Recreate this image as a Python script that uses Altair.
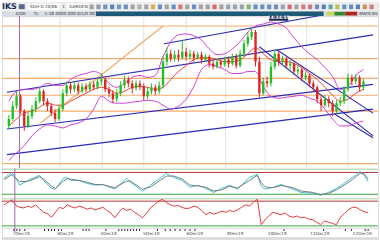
import altair as alt
import numpy as np
import pandas as pd

# ---------------- price candles (bar 0..92) ----------------
opens = [43,50,63,73,58,43,53,60,68,78, 68,63,56,50,60,76,84,80,84,78,
         83,80,85,82,88,90,80,76,70,76, 84,90,86,81,86,83,73,78,82,78,
         84,108,116,111,115,112,118,113,116,112, 115,110,113,106,103,108,105,110,106,113,
         104,116,126,133,138,108,76,88,86,103, 116,108,111,104,106,98,100,92,94,86,
         82,70,64,70,66,58,66,68,80,92, 88,92,82]
closes = [50,63,73,58,43,53,60,68,78,68, 63,56,50,60,76,84,80,84,78,83,
          80,85,82,88,90,80,76,70,76,84, 90,86,81,86,83,73,78,82,78,84,
          108,116,111,115,112,118,113,116,112,115, 110,113,106,103,108,105,110,106,113,104,
          116,126,133,138,108,76,88,86,103,116, 108,111,104,106,98,100,92,94,86,82,
          70,64,70,66,58,66,68,80,92,88, 92,82,88]
highs = [54,68,78,75,60,56,64,72,82,80, 71,66,60,64,80,88,87,88,87,86,
         86,88,88,91,96,92,83,79,80,88, 94,93,89,89,89,86,82,86,85,88,
         113,122,120,119,120,130,122,120,119,118, 118,116,115,109,111,110,113,113,116,116,
         120,130,138,143,140,113,92,93,108,120, 118,114,113,110,108,104,102,98,96,89,
         84,73,74,73,69,69,72,83,96,95, 95,94,91]
lows = [40,48,60,55,38,41,50,57,66,64, 58,53,47,48,58,73,76,77,75,76,
        77,78,79,80,84,77,72,66,67,73, 81,82,76,79,79,69,70,75,74,75,
        81,104,108,108,108,110,109,110,108,110, 106,108,102,100,101,102,103,102,104,101,
        102,113,123,130,103,72,74,82,83,100, 104,105,101,100,95,94,88,89,82,78,
        66,58,62,62,53,55,63,65,78,84, 85,78,79]

# ---------------- Bollinger bands (every second bar) ----------------
band_bars = list(range(0, 93, 2))
bb_upper = [68,78,80,80,82,86,84,84,90,94, 96,98,95,86,82,86,92,94,92,94,
            113,128,135,136,134,130,121,115,116,121, 128,138,144,146,148,146,142,132,123,116,
            110,102,93,80,83,94,100]
bb_mid = [43,50,56,58,62,66,64,64,68,72, 76,80,82,80,76,78,82,83,82,80,
          82,90,98,104,110,112,112,110,108,108, 110,116,122,116,110,108,108,106,102,96,
          90,82,74,68,70,76,80]
bb_lower = [8,16,23,33,40,44,43,41,44,46, 50,60,73,68,66,66,67,68,69,68,
            64,60,63,70,83,100,105,103,100,96, 96,98,98,83,73,71,72,73,74,71,
            68,60,50,43,43,46,48]

# ---------------- drawn levels and trend lines ----------------
levels = [144, 111, 91, 74, 58, 5]
trend_b0 = [40.25, -0.5, -0.5, -0.5, 65, 69.5, 84.5, 8.25]
trend_p0 = [126, 77, 40, 14, 123, 120, 55, 46]
trend_b1 = [81.25, 94.5, 94.5, 94.5, 94.5, 94.5, 94.5, 40]
trend_p1 = [155, 135, 85, 60, 33, 56, 31, 144]
trend_kind = ["blue", "blue", "blue", "blue", "blue", "blue", "blue", "orange"]

grid_bars = [13.25, 24.25, 35, 46, 56.25, 66.5, 77.25, 88]
cursor_bar = [2.75]
time_label = ["14:34:55"]
time_bar = [70]

# ---------------- oscillators ----------------
stoch_bars = [0,2,4,6,9,10,12,13,15,16, 17,19,21,23,25,28,31,32,35,37,
              41,43,45,47,49,51,53,55,57,59, 62,64,65,66,68,70,73,75,78,80,
              82,84,86,88,90,91,92]
stoch_k = [64,80,45,58,72,58,36,34,64,66, 58,58,50,45,47,34,64,53,28,45,
           77,66,58,39,45,36,25,36,45,34, 66,75,42,34,39,47,34,25,23,17,
           25,36,50,66,83,72,55]
stoch_d = [60,74,55,55,68,62,42,36,56,63, 61,58,53,47,46,38,56,56,34,40,
           70,70,62,45,43,39,29,32,42,37, 58,72,52,40,38,44,38,29,25,19,
           22,32,45,60,78,76,62]
rsi = [64,68,72,63,60,59,62,60,64,58, 52,50,44,52,60,58,64,61,59,62,
       60,57,59,56,58,60,55,51,43,52, 59,55,57,52,48,43,50,59,64,70,
       73,68,64,62,63,60,58,59,62,60, 55,48,52,49,51,54,52,55,53,56,
       60,64,62,68,73,32,40,47,52,50, 48,51,46,44,46,43,44,41,40,36,
       32,38,36,34,32,44,50,56,60,60, 56,53,51]

# ---------------- time axis ----------------
date_labels = ["2Dec19", "3Dec19", "4Dec19", "5Dec19", "6Dec19",
               "9Dec19", "10Dec19", "11Dec19", "12Dec19"]
label_bars = [2.25, 13.25, 24.25, 35, 46, 56.25, 66.5, 77.25, 88]
event_bars = [2.5, 3.25, 4, 5.25, 10.25, 11.25, 12, 12.75, 13.75, 14.5, 20, 20.75, 21.5,
              25.75, 29, 29.75, 30.5, 31.25, 32, 32.75, 33.5, 34.25, 38.75, 40.75, 42,
              43.25, 44.5, 45.75, 47, 48.25, 70.75, 80.75, 86.25, 87.75, 91.25, 92]

# ---------------- toolbar ----------------
tb_names = ["row1", "row2", "box1", "box2", "feed", "st1", "st2", "st3", "gridicon"]
tb_x0 = [0, 0, 26, 66, 95, 328, 336, 347, 17]
tb_x1 = [380, 380, 58, 86, 325, 336, 347, 359, 23]
tb_y0 = [0, 9, 1.5, 1.5, 9.4, 9.6, 9.6, 9.6, 2]
tb_y1 = [9, 14, 7.5, 7.5, 13.8, 13.4, 13.4, 13.4, 7]
tb_colors = ["#eeeeee", "#d8dde3", "#ffffff", "#ffffff", "#1d5a78", "#cbd65c", "#2f8c2f", "#b3261e", "#55698f"]
icon_colors = ["#8a8a8a","#7a7a9a","#3a7ab0","#2a5ea8","#4a7ac0","#3b6fb6","#8a8a8a","#9a9a9a","#8a8a8a","#c8a020",
               "#3b6fb6","#8a8a8a","#3b6fb6","#d05050","#8a8a8a","#3b6fb6","#8a8a8a","#8a8a8a","#d04040","#8a8a8a",
               "#7a8a9a","#7a8a9a","#7a8a9a","#5aa050","#3b6fb6","#3b6fb6","#3b6fb6","#3b6fb6","#7a8aaa","#d04040",
               "#8a8a8a","#d05050","#c05060","#3b6fb6","#2a5ea8","#3a8aa0","#b0b020","#3b6fb6","#3b6fb6","#2a5ea8",
               "#c07020","#d05060"]
tb_text = ["SGH-D 20/06", "1", "GARDEN", "GOD", "TL", "1:18  0000 000 0/1/0 007", "MAT0:65"]
tb_tx = [28, 61, 68, 14, 32, 43, 361]
tb_ty = [4.6, 4.6, 4.6, 11.7, 11.7, 11.7, 11.7]

W = 380
FONT = "DejaVu Sans"
XS = alt.Scale(domain=[-0.5, 94.5], nice=False, zero=False)
PS = alt.Scale(domain=[0, 154], nice=False, zero=False)
S1 = alt.Scale(domain=[9.1, 90.9], nice=False, zero=False)
S2 = alt.Scale(domain=[26.8, 74.8], nice=False, zero=False)


def bx(field="bar"):
    return alt.X(f"{field}:Q", scale=XS, axis=None)


# ======== toolbar ========
TBX = alt.Scale(domain=[0, 380], nice=False, zero=False)
TBY = alt.Scale(domain=[14, 0], nice=False, zero=False)
tb_df = pd.DataFrame({"name": tb_names, "x0": tb_x0, "x1": tb_x1, "y0": tb_y0, "y1": tb_y1})
tb_rects = alt.Chart(tb_df).mark_rect().encode(
    x=alt.X("x0:Q", scale=TBX, axis=None), x2="x1:Q",
    y=alt.Y("y0:Q", scale=TBY, axis=None), y2="y1:Q",
    color=alt.Color("name:N", scale=alt.Scale(domain=tb_names, range=tb_colors), legend=None),
)
icon_df = pd.DataFrame({"icon": [f"i{j}" for j in range(len(icon_colors))]})
icon_df["x0"] = [88.5 + 6.9 * j for j in range(len(icon_colors))]
icon_df["x1"] = icon_df["x0"] + 4.2
icon_df["y0"] = 2.3
icon_df["y1"] = 7.0
icons = alt.Chart(icon_df).mark_rect(opacity=0.75).encode(
    x=alt.X("x0:Q", scale=TBX, axis=None), x2="x1:Q",
    y=alt.Y("y0:Q", scale=TBY, axis=None), y2="y1:Q",
    color=alt.Color("icon:N", scale=alt.Scale(domain=list(icon_df["icon"]), range=icon_colors), legend=None),
)
txt_df = pd.DataFrame({"t": tb_text, "x": tb_tx, "y": tb_ty})
tb_texts = alt.Chart(txt_df).mark_text(align="left", baseline="middle", fontSize=4.3, font=FONT, color="#333333").encode(
    x=alt.X("x:Q", scale=TBX, axis=None), y=alt.Y("y:Q", scale=TBY, axis=None), text="t:N")
logo = alt.Chart(pd.DataFrame({"t": ["IKS"], "x": [0], "y": [4.8]})).mark_text(
    align="left", baseline="middle", fontSize=8, fontWeight="bold", font=FONT, color="#1b2a55").encode(
    x=alt.X("x:Q", scale=TBX, axis=None), y=alt.Y("y:Q", scale=TBY, axis=None), text="t:N")
toolbar = alt.layer(tb_rects, icons, tb_texts, logo).resolve_scale(color="independent").properties(width=W, height=14)

# ======== main price panel ========
candles = pd.DataFrame({"bar": range(len(opens)), "open": opens, "close": closes, "high": highs, "low": lows})
candles["dir"] = np.where(candles["close"] >= candles["open"], "up", "down")
CC = alt.Scale(domain=["up", "down"], range=["#22c022", "#e02424"])

grid_v = alt.Chart(pd.DataFrame({"bar": grid_bars})).mark_rule(color="#e2e2e2", strokeWidth=1).encode(x=bx())
lev = alt.Chart(pd.DataFrame({"p": levels})).mark_rule(color="#f5ad6e", strokeWidth=1.2).encode(
    y=alt.Y("p:Q", scale=PS, axis=None))
trend_df = pd.DataFrame({"b0": trend_b0, "p0": trend_p0, "b1": trend_b1, "p1": trend_p1, "kind": trend_kind})
trend_blue = alt.Chart(trend_df).transform_filter("datum.kind == 'blue'").mark_rule(
    color="#2a2ab4", strokeWidth=1.1, clip=True).encode(
    x=bx("b0"), x2="b1:Q", y=alt.Y("p0:Q", scale=PS, axis=None), y2="p1:Q")
trend_orange = alt.Chart(trend_df).transform_filter("datum.kind == 'orange'").mark_rule(
    color="#f2a866", strokeWidth=1.1, clip=True).encode(
    x=bx("b0"), x2="b1:Q", y=alt.Y("p0:Q", scale=PS, axis=None), y2="p1:Q")
bands = pd.DataFrame({"bar": band_bars, "up": bb_upper, "mid": bb_mid, "lo": bb_lower})
bb_up = alt.Chart(bands).mark_line(color="#d23ed2", strokeWidth=1, interpolate="monotone", clip=True).encode(
    x=bx(), y=alt.Y("up:Q", scale=PS, axis=None))
bb_lo = alt.Chart(bands).mark_line(color="#d23ed2", strokeWidth=1, interpolate="monotone", clip=True).encode(
    x=bx(), y=alt.Y("lo:Q", scale=PS, axis=None))
bb_md = alt.Chart(bands).mark_line(color="#e8403a", strokeWidth=1, interpolate="monotone", clip=True).encode(
    x=bx(), y=alt.Y("mid:Q", scale=PS, axis=None))
wicks = alt.Chart(candles).mark_rule(strokeWidth=1).encode(
    x=bx(), y=alt.Y("low:Q", scale=PS, axis=None), y2="high:Q",
    color=alt.Color("dir:N", scale=CC, legend=None))
bodies = alt.Chart(candles).mark_bar(size=2.4).encode(
    x=bx(), y=alt.Y("open:Q", scale=PS, axis=None), y2="close:Q",
    color=alt.Color("dir:N", scale=CC, legend=None))
cursor = alt.Chart(pd.DataFrame({"bar": cursor_bar})).mark_rule(color="#9b67b0", strokeWidth=1).encode(x=bx())
tl_df = pd.DataFrame({"bar": time_bar, "t": time_label})
tl_box = alt.Chart(tl_df).mark_rect(color="#1a2555").encode(
    x=alt.X("b0:Q", scale=XS, axis=None), x2="b1:Q",
    y=alt.Y("p0:Q", scale=PS, axis=None), y2="p1:Q").transform_calculate(
    b0="datum.bar - 2.5", b1="datum.bar + 2.5", p0="149.3", p1="154")
tl_txt = alt.Chart(tl_df).mark_text(color="white", fontSize=4.5, font=FONT, fontWeight="bold", baseline="middle").encode(
    x=bx(), y=alt.Y("p:Q", scale=PS, axis=None), text="t:N").transform_calculate(p="151.6")
main = alt.layer(grid_v, lev, trend_orange, trend_blue, bb_up, bb_lo, bb_md, wicks, bodies, cursor,
                 tl_box, tl_txt).properties(width=W, height=154)

# ======== oscillator 1 (stochastic) ========
st = pd.DataFrame({"bar": stoch_bars, "k": stoch_k, "d": stoch_d})
sep1 = alt.Chart(pd.DataFrame({"v": [1]})).mark_rule(color="#bfe3b5", strokeWidth=1.2).encode(y=alt.value(1))
o1_hi = alt.Chart(pd.DataFrame({"v": [80]})).mark_rule(color="#b23a3a", strokeWidth=1).encode(
    y=alt.Y("v:Q", scale=S1, axis=None))
o1_lo = alt.Chart(pd.DataFrame({"v": [20]})).mark_rule(color="#3aa53a", strokeWidth=1).encode(
    y=alt.Y("v:Q", scale=S1, axis=None))
k_line = alt.Chart(st).mark_line(color="#3cc6d6", strokeWidth=1, clip=True).encode(
    x=bx(), y=alt.Y("k:Q", scale=S1, axis=None))
d_line = alt.Chart(st).mark_line(color="#7a7a7a", strokeWidth=1, clip=True).encode(
    x=bx(), y=alt.Y("d:Q", scale=S1, axis=None))
cur1 = alt.Chart(pd.DataFrame({"bar": cursor_bar})).mark_rule(color="#9b67b0", strokeWidth=1).encode(x=bx())
osc1 = alt.layer(sep1, o1_hi, o1_lo, cur1, k_line, d_line).properties(width=W, height=30)

# ======== oscillator 2 (RSI) ========
rs = pd.DataFrame({"bar": range(len(rsi)), "v": rsi})
sep2 = alt.Chart(pd.DataFrame({"v": [1]})).mark_rule(color="#bfe3b5", strokeWidth=1.2).encode(y=alt.value(0.5))
o2_hi = alt.Chart(pd.DataFrame({"v": [70]})).mark_rule(color="#b23a3a", strokeWidth=1).encode(
    y=alt.Y("v:Q", scale=S2, axis=None))
o2_lo = alt.Chart(pd.DataFrame({"v": [30]})).mark_rule(color="#3aa53a", strokeWidth=1).encode(
    y=alt.Y("v:Q", scale=S2, axis=None))
r_line = alt.Chart(rs).mark_line(color="#e23a3a", strokeWidth=1, clip=True).encode(
    x=bx(), y=alt.Y("v:Q", scale=S2, axis=None))
cur2 = alt.Chart(pd.DataFrame({"bar": cursor_bar})).mark_rule(color="#9b67b0", strokeWidth=1).encode(x=bx())
osc2 = alt.layer(sep2, o2_hi, o2_lo, cur2, r_line).properties(width=W, height=30)

# ======== time axis strip ========
ev = alt.Chart(pd.DataFrame({"bar": event_bars})).mark_rule(color="#222222", strokeWidth=1).encode(
    x=bx(), y=alt.value(1.2), y2=alt.value(3.2))
cur3 = alt.Chart(pd.DataFrame({"bar": cursor_bar})).mark_rule(color="#9b67b0", strokeWidth=1).encode(
    x=bx(), y=alt.value(0), y2=alt.value(4))
lab = alt.Chart(pd.DataFrame({"bar": label_bars, "t": date_labels})).mark_text(
    align="left", baseline="middle", fontSize=4.3, font=FONT, color="#444444", dx=0.5).encode(
    x=bx(), y=alt.value(6.3), text="t:N")
foot = alt.Chart(pd.DataFrame({"v": [0]})).mark_rect(color="#d9d9d9").encode(
    x=alt.value(0), x2=alt.value(W), y=alt.value(9.4), y2=alt.value(12))
axis_strip = alt.layer(foot, ev, cur3, lab).properties(width=W, height=12)

chart = alt.vconcat(toolbar, main, osc1, osc2, axis_strip, spacing=0, padding=0, bounds="flush").resolve_scale(
    x="independent", y="independent", color="independent").configure_view(stroke=None).configure(
    background="white")

chart.save("out.html", embed_options={"renderer": "svg", "actions": False})
